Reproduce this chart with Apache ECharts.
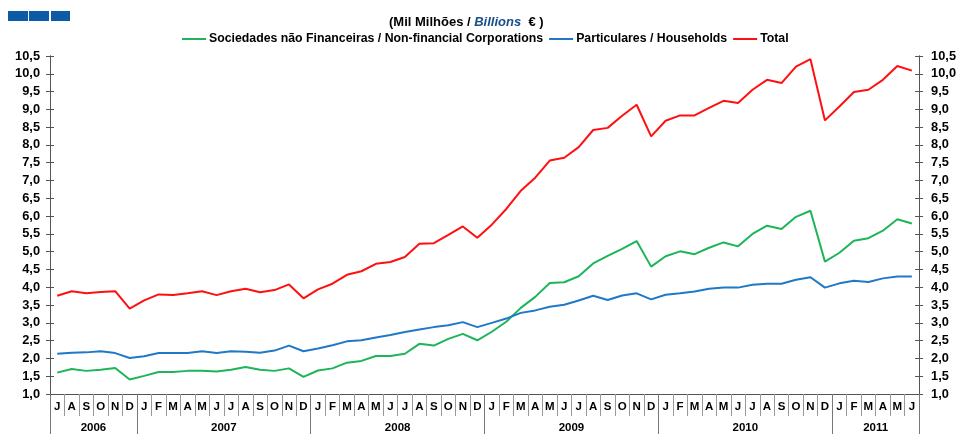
<!DOCTYPE html>
<html>
<head>
<meta charset="utf-8">
<script src="https://cdn.jsdelivr.net/npm/echarts@6/dist/echarts.min.js"></script>
<style>html,body{margin:0;padding:0;background:#fff;}#c{width:959px;height:434px;}</style>
</head>
<body>
<div id="c"></div>
<script>
var months = ['J','A','S','O','N','D',
  'J','F','M','A','M','J','J','A','S','O','N','D',
  'J','F','M','A','M','J','J','A','S','O','N','D',
  'J','F','M','A','M','J','J','A','S','O','N','D',
  'J','F','M','A','M','J','J','A','S','O','N','D',
  'J','F','M','A','M','J'];
var years = ['2006','2007','2008','2009','2010','2011'];
var yearCenters = [3, 12, 24, 36, 48, 57];
var yearStarts = [0, 6, 18, 30, 42, 54];

var green = [1.60,1.70,1.65,1.68,1.73,1.41,
  1.51,1.62,1.62,1.65,1.65,1.63,1.68,1.76,1.68,1.65,1.72,1.48,
  1.66,1.72,1.88,1.93,2.07,2.07,2.13,2.41,2.36,2.55,2.69,2.51,
  2.75,3.03,3.42,3.73,4.12,4.14,4.31,4.67,4.88,5.08,5.30,4.58,
  4.87,5.01,4.93,5.11,5.26,5.15,5.50,5.73,5.64,5.98,6.15,4.72,
  4.97,5.31,5.38,5.59,5.91,5.79];
var blue = [2.13,2.16,2.17,2.20,2.15,2.01,
  2.06,2.15,2.15,2.15,2.20,2.15,2.20,2.19,2.16,2.22,2.36,2.20,
  2.28,2.37,2.48,2.51,2.59,2.66,2.74,2.81,2.88,2.93,3.02,2.88,
  3.00,3.12,3.28,3.35,3.45,3.51,3.63,3.76,3.64,3.77,3.83,3.66,
  3.79,3.83,3.88,3.96,3.99,3.99,4.07,4.10,4.10,4.21,4.28,3.99,
  4.11,4.18,4.15,4.25,4.30,4.30];
var red = [3.76,3.89,3.83,3.87,3.89,3.40,
  3.63,3.80,3.78,3.83,3.89,3.78,3.89,3.96,3.86,3.92,4.08,3.69,
  3.94,4.10,4.35,4.45,4.66,4.71,4.85,5.22,5.24,5.47,5.71,5.39,
  5.76,6.20,6.71,7.08,7.56,7.64,7.94,8.42,8.48,8.82,9.13,8.24,
  8.68,8.83,8.83,9.04,9.24,9.18,9.55,9.83,9.74,10.20,10.41,8.69,
  9.08,9.49,9.55,9.83,10.22,10.09];

var FONT = '"Liberation Sans", Arial, sans-serif';
var chart = echarts.init(document.getElementById('c'), null, {renderer: 'canvas'});
function fmt(v){ return v.toFixed(1).replace('.', ','); }
var yBase = {type:'value', min:1, max:10.5, interval:0.5, splitLine:{show:false}};
function yAx(pos, labels, inside){
  return Object.assign({}, yBase, {
    position: pos,
    axisLine:{show:true, lineStyle:{color:'#555', width:1}},
    axisTick:{show:true, inside:inside, length:4, lineStyle:{color:'#555'}},
    axisLabel:{show:labels, formatter:fmt, color:'#000', fontFamily:FONT, fontWeight:'bold', fontSize:12.8, margin: pos==='left'?10:12, align: pos==='left'?'right':'left'}
  });
}
chart.setOption({
  animation:false,
  backgroundColor:'#fff',
  title:{
    text:'(Mil Milhões / {b|Billions}  € )',
    left:384, top:11,
    textStyle:{fontFamily:FONT, fontWeight:'bold', fontSize:13, color:'#000',
      rich:{b:{fontFamily:FONT, fontWeight:'bold', fontStyle:'italic', fontSize:13, color:'#1a4f8a'}}}
  },
  graphic:[
    {type:'rect', shape:{x:8,y:11,width:20,height:10}, style:{fill:'#0d5aa7'}},
    {type:'rect', shape:{x:29,y:11,width:20,height:10}, style:{fill:'#0d5aa7'}},
    {type:'rect', shape:{x:51,y:11,width:19,height:10}, style:{fill:'#0d5aa7'}}
  ],
  legend:{
    left:177, top:28, itemGap:6, itemWidth:24, itemHeight:2, icon:'rect',
    textStyle:{fontFamily:FONT, fontWeight:'bold', fontSize:12.3, color:'#000', padding:[0,0,0,-2]},
    data:['Sociedades não Financeiras / Non-financial Corporations','Particulares / Households','Total']
  },
  grid:{left:50, right:39, top:56, bottom:38},
  xAxis:[
    {type:'category', data:months, boundaryGap:true, position:'bottom',
     axisLine:{show:true, lineStyle:{color:'#555'}},
     axisTick:{show:true, interval:0, length:22, lineStyle:{color:'#999'}},
     axisLabel:{interval:0, color:'#000', fontFamily:FONT, fontWeight:'bold', fontSize:11.5, margin:7}},
    {type:'category', data:months, boundaryGap:true, position:'bottom',
     axisLine:{show:false},
     axisTick:{show:true, length:40, lineStyle:{color:'#777'},
       interval:function(i){ return yearStarts.indexOf(i) >= 0; }},
     axisLabel:{show:false}},
    {type:'value', min:0, max:60, interval:3, position:'bottom',
     axisLine:{show:false}, axisTick:{show:false}, splitLine:{show:false},
     axisLabel:{color:'#000', fontFamily:FONT, fontWeight:'bold', fontSize:11.5, margin:28,
       showMinLabel:true, showMaxLabel:true,
       formatter:function(v){ var k = yearCenters.indexOf(v); return k >= 0 ? years[k] : ''; }}}
  ],
  yAxis:[yAx('left', true, false), yAx('left', false, true), yAx('right', true, false), yAx('right', false, true)],
  series:[
    {name:'Sociedades não Financeiras / Non-financial Corporations', type:'line', data:green, symbol:'none',
     lineStyle:{color:'#1db45a', width:2}, itemStyle:{color:'#1db45a'}},
    {name:'Particulares / Households', type:'line', data:blue, symbol:'none',
     lineStyle:{color:'#1f78c8', width:2}, itemStyle:{color:'#1f78c8'}},
    {name:'Total', type:'line', data:red, symbol:'none',
     lineStyle:{color:'#ff1010', width:2}, itemStyle:{color:'#ff1010'}}
  ]
});
</script>
</body>
</html>
